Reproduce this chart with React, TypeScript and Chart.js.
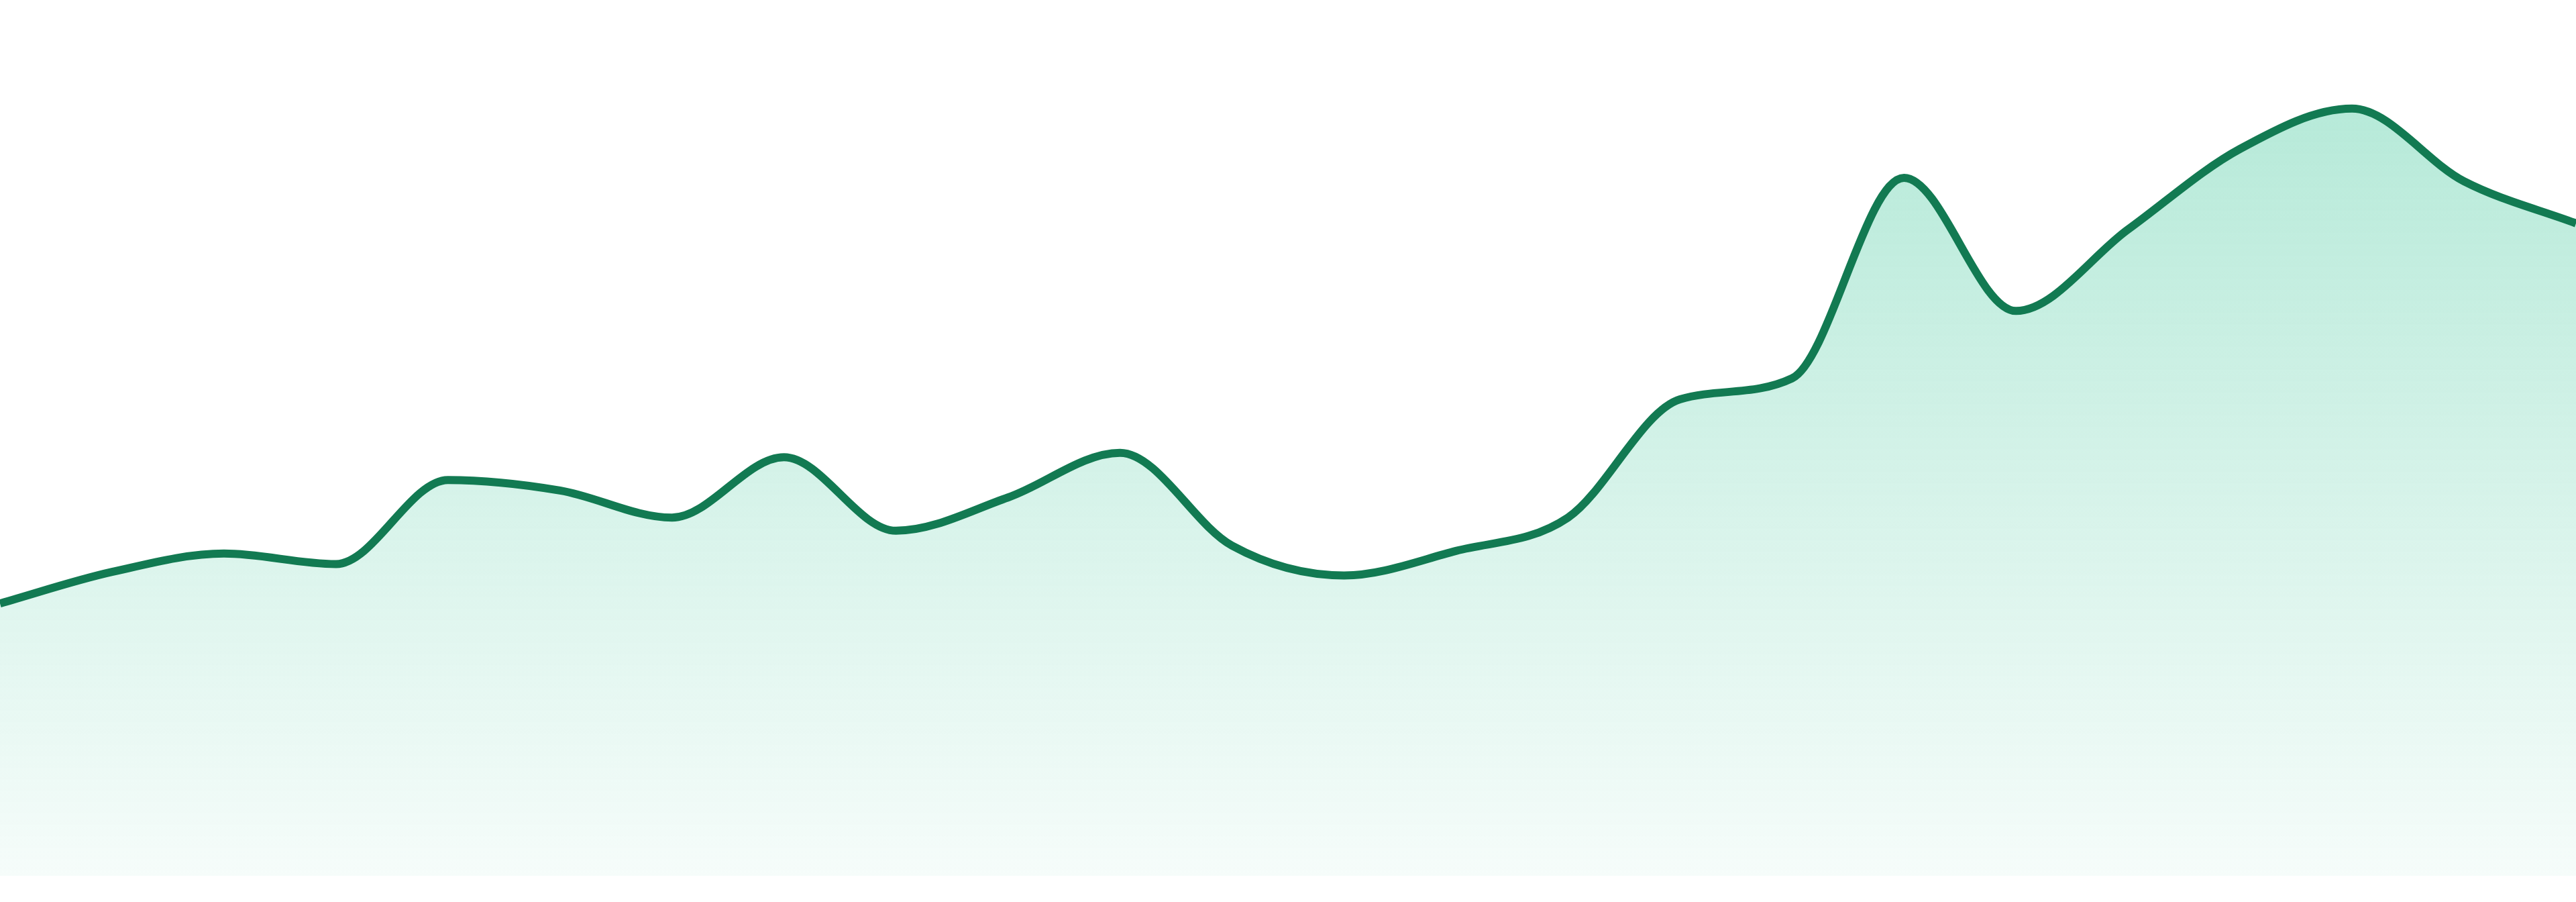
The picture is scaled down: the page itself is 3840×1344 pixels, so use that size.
import React, { useEffect, useRef } from "react";
import { Chart, registerables } from "chart.js";

Chart.register(...registerables);

// 24 evenly spaced samples, no axes shown
const labels = [
  "1", "2", "3", "4", "5", "6", "7", "8", "9", "10", "11", "12",
  "13", "14", "15", "16", "17", "18", "19", "20", "21", "22", "23", "24",
];

const values = [
  31.1, 34.7, 36.8, 35.6, 45.2, 44.0, 40.9, 47.8, 39.4, 43.2, 48.3, 37.7,
  34.3, 37.1, 40.9, 54.4, 56.8, 79.7, 64.5, 73.8, 83.0, 87.6, 79.3, 74.5,
];

const yMin = 0;
const yMax = 100;

const lineColor = "#127a52";

export default function App() {
  const canvasRef = useRef<HTMLCanvasElement | null>(null);

  useEffect(() => {
    const ctx = canvasRef.current?.getContext("2d");
    if (!ctx) return;

    const chart = new Chart(ctx, {
      type: "line",
      data: {
        labels,
        datasets: [
          {
            data: values,
            borderColor: lineColor,
            borderWidth: 12,
            pointRadius: 0,
            cubicInterpolationMode: "monotone",
            fill: "start",
            backgroundColor: (c: any) => {
              const area = c.chart.chartArea;
              if (!area) return "rgba(16,185,129,0.2)";
              const g = c.chart.ctx.createLinearGradient(0, area.top, 0, area.bottom);
              g.addColorStop(0, "rgba(16,185,129,0.34)");
              g.addColorStop(1, "rgba(16,185,129,0.04)");
              return g;
            },
          },
        ],
      },
      options: {
        responsive: true,
        maintainAspectRatio: false,
        animation: false,
        layout: { padding: 0 },
        plugins: {
          legend: { display: false },
          tooltip: { enabled: false },
        },
        scales: {
          x: { display: false, offset: false },
          y: { display: false, min: yMin, max: yMax },
        },
      },
    });

    return () => {
      chart.destroy();
    };
  }, []);

  return (
    <div
      style={{
        position: "fixed",
        left: 0,
        top: 0,
        width: 3840,
        height: 1344,
        background: "#ffffff",
      }}
    >
      <div style={{ position: "relative", width: 3840, height: 1305 }}>
        <canvas ref={canvasRef} />
      </div>
    </div>
  );
}
